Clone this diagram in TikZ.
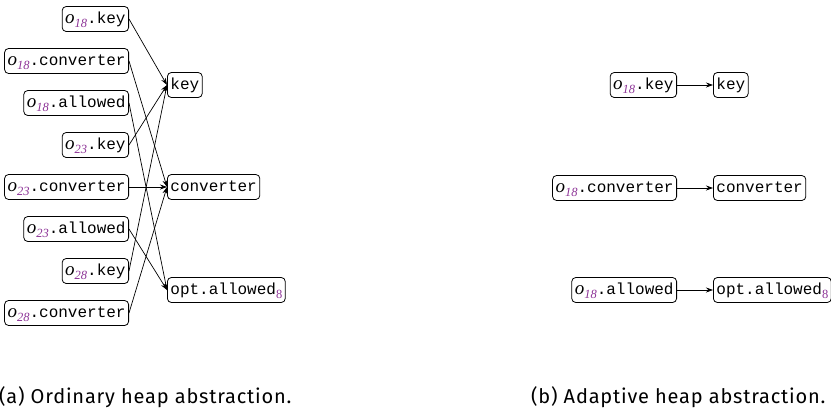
\documentclass[tikz,border=0pt]{standalone}
\usepackage{fontspec}
\setmainfont{Fira Sans}[Ligatures=NoCommon, LetterSpace=4]
\setmonofont{Liberation Mono}
\newfontfamily\objfont{Liberation Serif}
\usetikzlibrary{arrows.meta}
\definecolor{idpurple}{RGB}{140,50,150}
% object name o_n with a purple allocation-site index
\newcommand{\hobj}[1]{{\fontsize{19}{19}\selectfont\objfont\itshape o}\raisebox{-4pt}{\fontsize{12.5}{12.5}\selectfont\objfont\itshape\color{idpurple}#1}}
\newcommand{\hidx}[1]{\raisebox{-4pt}{\fontsize{12.5}{12.5}\selectfont\objfont\color{idpurple}#1}}
\begin{document}
\begin{tikzpicture}[x=1pt,y=-1pt,
  fld/.style={draw, rounded corners=4pt, line width=0.8pt, inner xsep=3pt, inner ysep=0pt,
    text height=12pt, text depth=4pt, minimum height=25pt,
    font=\fontsize{16}{18}\selectfont\ttfamily},
  src/.style={fld, anchor=east},
  dst/.style={fld, anchor=west},
  link/.style={line width=0.7pt, -{Stealth[length=7pt,width=5pt]}},
  captext/.style={anchor=base west, inner sep=0pt, font=\fontsize{20}{24}\selectfont}]
\useasboundingbox (0,0) rectangle (831,416);

% ---- (a) ordinary heap abstraction
\node[src] (a1) at (129,19)  {\hobj{18}.key};
\node[src] (a2) at (129,61)  {\hobj{18}.converter};
\node[src] (a3) at (129,103) {\hobj{18}.allowed};
\node[src] (a4) at (129,145) {\hobj{23}.key};
\node[src] (a5) at (129,187) {\hobj{23}.converter};
\node[src] (a6) at (129,229) {\hobj{23}.allowed};
\node[src] (a7) at (129,271) {\hobj{28}.key};
\node[src] (a8) at (129,313) {\hobj{28}.converter};

\node[dst] (ka) at (167,85)  {key};
\node[dst] (ca) at (167,187) {converter};
\node[dst] (oa) at (167,290) {opt.allowed\hidx{8}};

\foreach \s in {a1,a4,a7} \draw[link] (\s.east) -- (ka.west);
\foreach \s in {a2,a5,a8} \draw[link] (\s.east) -- (ca.west);
\foreach \s in {a3,a6} \draw[link] (\s.east) -- (oa.west);

% ---- (b) adaptive heap abstraction
\node[src] (b1) at (677,85)  {\hobj{18}.key};
\node[src] (b2) at (677,188) {\hobj{18}.converter};
\node[src] (b3) at (677,290) {\hobj{18}.allowed};

\node[dst] (kb) at (713,85)  {key};
\node[dst] (cb) at (713,188) {converter};
\node[dst] (ob) at (713,290) {opt.allowed\hidx{8}};

\draw[link] (b1.east) -- (kb.west);
\draw[link] (b2.east) -- (cb.west);
\draw[link] (b3.east) -- (ob.west);

% ---- captions
\node[captext] (capa) at (-1,403)  {(a) Ordinary heap abstraction.};
\node[captext] (capb) at (531,403) {(b) Adaptive heap abstraction.};
\end{tikzpicture}
\end{document}
